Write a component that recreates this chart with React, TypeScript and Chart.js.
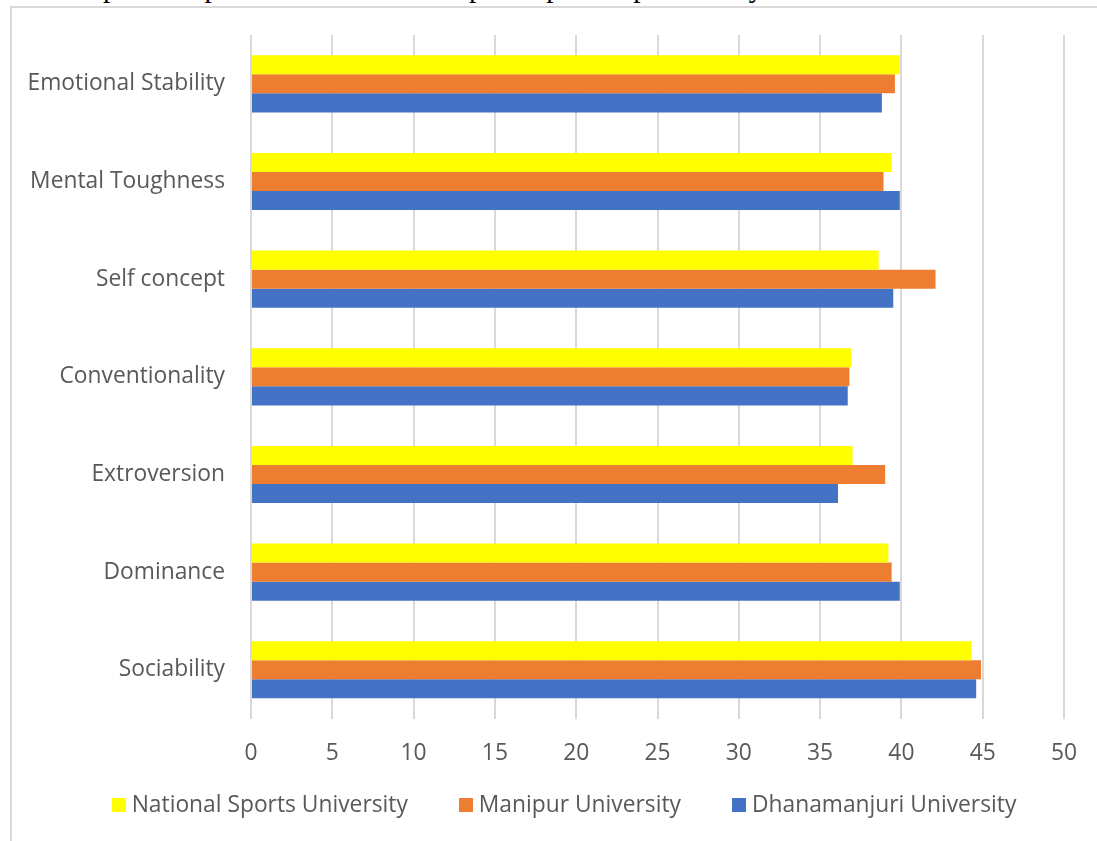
import { useEffect, useRef } from "react";
import Chart from "chart.js/auto";

const categories = [
  "Emotional Stability",
  "Mental Toughness",
  "Self concept",
  "Conventionality",
  "Extroversion",
  "Dominance",
  "Sociability",
];
const seriesNames = ["National Sports University", "Manipur University", "Dhanamanjuri University"];
const nationalSports = [39.9, 39.4, 38.6, 36.9, 37.0, 39.2, 44.3];
const manipur = [39.6, 38.9, 42.1, 36.8, 39.0, 39.4, 44.9];
const dhanamanjuri = [38.8, 39.9, 39.5, 36.7, 36.1, 39.9, 44.6];
const seriesColors = ["#FFFF00", "#ED7D31", "#4472C4"];
const xMin = 0;
const xMax = 50;
const xStep = 5;
const captionText = "Graphical representation of mean sports specific personality of the three universities";

const FONT = "'Open Sans', 'Noto Sans', sans-serif";
const FONT_SIZE = 22.8;
const TEXT_COLOR = "#595959";
const LEGEND_Y = 798;

const legendPlugin = {
  id: "excelLegend",
  afterDraw(chart: any) {
    const ctx = chart.ctx as CanvasRenderingContext2D;
    ctx.save();
    ctx.font = `${FONT_SIZE}px ${FONT}`;
    ctx.textBaseline = "middle";
    ctx.textAlign = "left";
    const box = 14;
    const gap = 6;
    const itemGap = 51;
    const items = chart.data.datasets.map((ds: any) => ({
      text: ds.label as string,
      color: ds.backgroundColor as string,
      w: ctx.measureText(ds.label).width,
    }));
    const total =
      items.reduce((s: number, it: any) => s + box + gap + it.w, 0) + itemGap * (items.length - 1);
    let x = chart.width / 2 - total / 2;
    for (const it of items) {
      ctx.fillStyle = it.color;
      ctx.fillRect(Math.round(x), Math.round(LEGEND_Y - box / 2), box, box);
      ctx.fillStyle = TEXT_COLOR;
      ctx.fillText(it.text, x + box + gap, LEGEND_Y + 1);
      x += box + gap + it.w + itemGap;
    }
    ctx.restore();
  },
};

export default function App() {
  const ref = useRef<HTMLCanvasElement | null>(null);

  useEffect(() => {
    if (!ref.current) return;
    const chart = new Chart(ref.current, {
      type: "bar",
      data: {
        labels: categories,
        datasets: [nationalSports, manipur, dhanamanjuri].map((d, i) => ({
          label: seriesNames[i],
          data: d,
          backgroundColor: seriesColors[i],
          borderWidth: 0,
          categoryPercentage: 0.585,
          barPercentage: 1.0,
        })),
      },
      plugins: [legendPlugin],
      options: {
        indexAxis: "y",
        responsive: false,
        animation: false,
        devicePixelRatio: 1,
        layout: { padding: { top: 28, left: 0, right: 51, bottom: 53 } },
        plugins: {
          tooltip: { enabled: false },
          legend: { display: false },
        },
        scales: {
          x: {
            min: xMin,
            max: xMax,
            ticks: {
              stepSize: xStep,
              padding: 21,
              color: TEXT_COLOR,
              font: { family: FONT, size: FONT_SIZE },
            },
            grid: { color: "#d9d9d9", lineWidth: 2, drawTicks: false, tickLength: 0 },
            border: { display: false },
          },
          y: {
            ticks: {
              padding: 26,
              color: TEXT_COLOR,
              font: { family: FONT, size: FONT_SIZE },
            },
            grid: { display: false, drawTicks: false, tickLength: 0 },
            border: { display: false },
            afterFit: (scale: any) => {
              scale.width = 238;
              scale.paddingTop = 0;
              scale.paddingBottom = 0;
            },
          },
        },
      },
    });
    return () => chart.destroy();
  }, []);

  return (
    <div
      style={{
        position: "fixed",
        left: 0,
        top: 0,
        width: 1097,
        height: 841,
        overflow: "hidden",
        background: "#ffffff",
      }}
    >
      <div
        style={{
          position: "absolute",
          left: 59,
          top: -30,
          whiteSpace: "nowrap",
          fontFamily: "'Liberation Serif', 'Times New Roman', serif",
          fontSize: 29.3,
          lineHeight: "34px",
          color: "#000",
        }}
      >
        {captionText}
      </div>
      <div
        style={{
          position: "absolute",
          left: 10,
          top: 6,
          width: 1200,
          height: 1000,
          border: "2px solid #d9d9d9",
          boxSizing: "border-box",
        }}
      />
      <canvas
        ref={ref}
        width={1102}
        height={834}
        style={{ position: "absolute", left: 13, top: 7, width: 1102, height: 834 }}
      />
    </div>
  );
}
